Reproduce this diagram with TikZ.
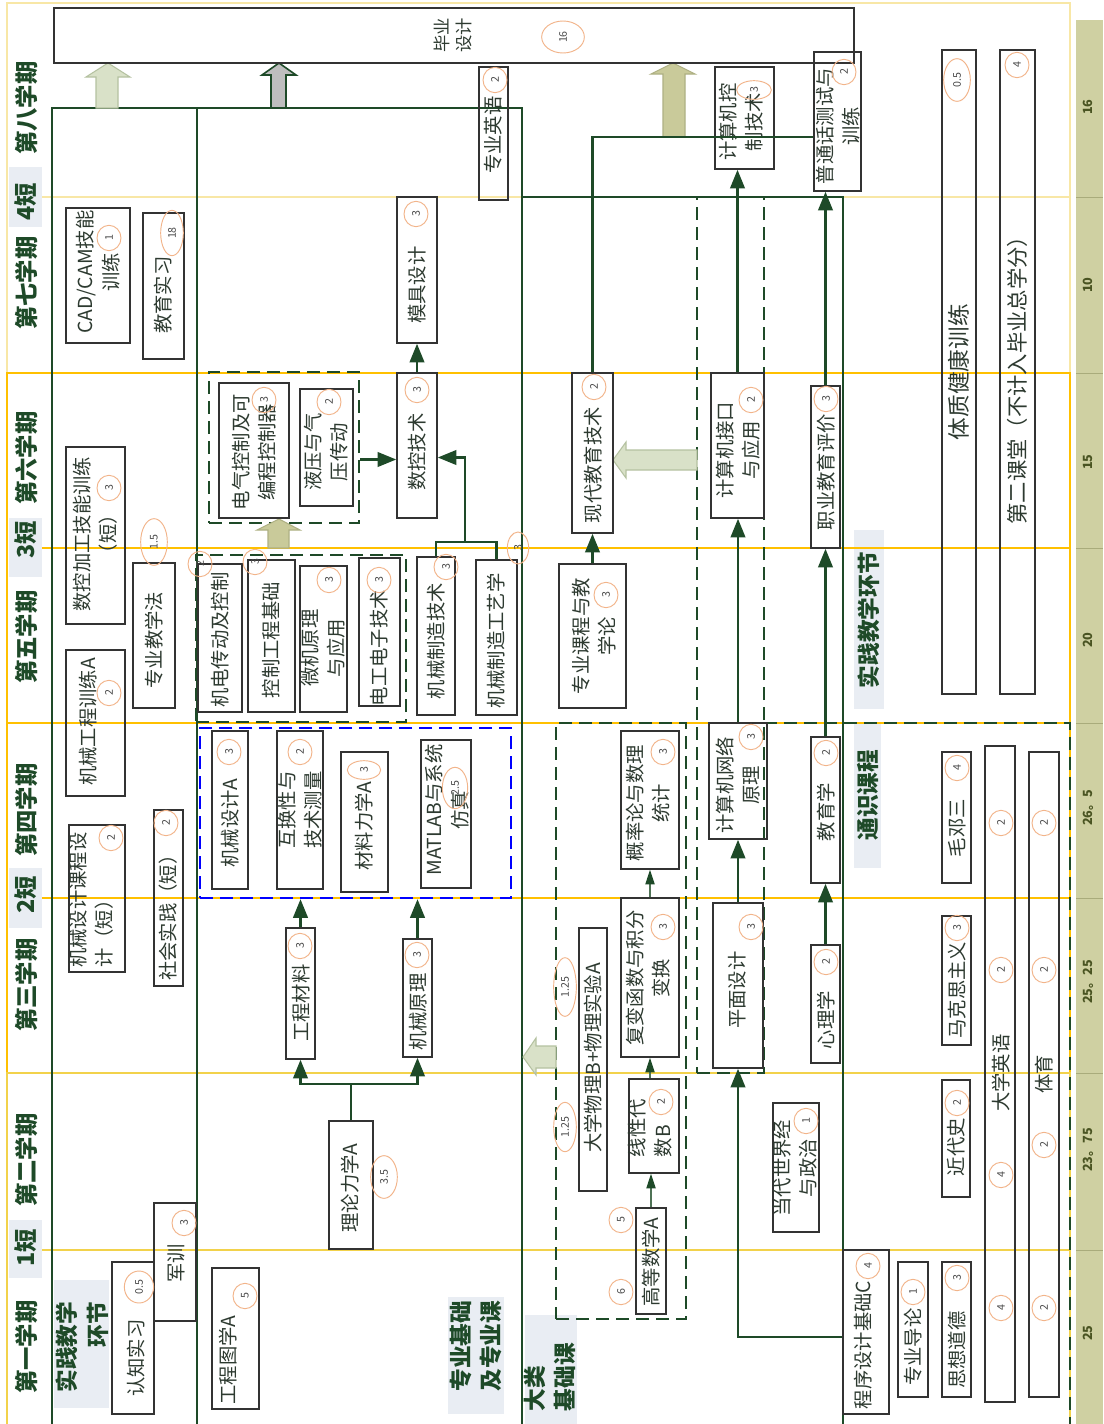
\documentclass[tikz,border=0pt]{standalone}
\usepackage{fontspec}
\setmainfont{Noto Sans CJK SC}
\usetikzlibrary{fit,calc,arrows.meta,shapes.geometric}
\definecolor{cGreen}{HTML}{1E4A28}
\definecolor{cGreenLt}{HTML}{4F7356}
\definecolor{cBox}{HTML}{333333}
\definecolor{cText}{HTML}{2D3A30}
\definecolor{cNum}{HTML}{4A4A4A}
\definecolor{cOrange}{HTML}{F2B48A}
\definecolor{cPale}{HTML}{F8E7A6}
\definecolor{cOr}{HTML}{FFC000}
\definecolor{cYel}{HTML}{F2D24B}
\definecolor{cBg}{HTML}{E9EDF3}
\definecolor{cOlive}{HTML}{CFD0A2}
\definecolor{cOliveD}{HTML}{A9AB7B}
\definecolor{cBarTxt}{HTML}{4A5422}
\definecolor{cArrLt}{HTML}{D9E1C8}
\definecolor{cArrLtD}{HTML}{B5C2A1}
\definecolor{cArrOl}{HTML}{C9CA9A}
\definecolor{cArrOlD}{HTML}{AEB083}
\definecolor{cGray}{HTML}{BEBEBE}
\tikzset{
 cbox/.style={draw=cBox, line width=1.2pt, inner sep=0pt},
 ctext/.style={rotate=90, align=center, inner sep=0pt, text=cText, font=\fontsize{14.5}{19.5}\selectfont},
 num/.style={ellipse, draw=cOrange, line width=0.7pt, rotate=90, inner sep=0.5pt, minimum width=19pt, minimum height=18pt, text=cNum, font=\fontsize{8}{9}\selectfont},
 gl/.style={draw=cGreen, line width=1.6pt},
 arr/.style={gl, -{Triangle[width=11pt,length=14pt]}},
 sarr/.style={draw=cGreenLt, line width=0.8pt, -{Triangle[width=7pt,length=11pt,color=cGreen]}},
 dsh/.style={draw=cGreen, line width=1.6pt, dash pattern=on 10pt off 5pt, inner sep=0pt},
 bdsh/.style={draw=blue, line width=1.8pt, dash pattern=on 10pt off 5pt, inner sep=0pt},
 sem/.style={rotate=90, inner sep=0pt, text=cGreen, font=\fontsize{17.5}{20}\selectfont\bfseries},
 lab/.style={rotate=90, align=center, inner sep=0pt, text=cGreen, font=\fontsize{17}{23}\selectfont\bfseries},
 barnum/.style={rotate=90, inner sep=0pt, text=cBarTxt, font=\fontsize{9.5}{10}\selectfont\bfseries},
 blockarr/.style={line width=0.8pt, line join=miter},
}
\newcommand\bx[5]{\node[cbox, fit={(#2,#3) (#4,#5)}] (#1) {};}
\newcommand\tx[4][]{\node[ctext,#1] (#2) at (#3) {#4};}
\newcommand\nm[4][]{\node[num,#1] (#2) at (#3) {#4};}
\begin{document}
\begin{tikzpicture}[x=0.75pt,y=-0.75pt]
\path[use as bounding box] (0,0) rectangle (1103,1424);
\fill[white] (0,0) rectangle (1103,1424);
% backgrounds
\fill[cBg] (9,167) rectangle (42,227);
\fill[cBg] (9,518) rectangle (42,577);
\fill[cBg] (9,868) rectangle (42,928);
\fill[cBg] (9,1220) rectangle (42,1278);
\fill[cBg] (854,530) rectangle (884,709);
\fill[cBg] (854,723) rectangle (881,868);
\fill[cBg] (54,1280) rectangle (109,1408);
\fill[cBg] (448,1297) rectangle (504,1414);
\fill[cBg] (525,1315) rectangle (577,1424);
\fill[cOlive] (1076,20) rectangle (1103,1424);
\foreach \yy in {197,373,548,723,898,1073,1250} \draw[cOliveD, line width=0.6pt] (1076,\yy) -- (1103,\yy);
% semester frame
\draw[cPale, line width=1.2pt] (7,373) -- (7,3) -- (1070,3) -- (1070,373);
\draw[cPale, line width=1.2pt] (42,197) -- (1070,197);
\draw[cOr, line width=1.8pt] (7,1073) -- (7,373) -- (1070,373) -- (1070,1073);
\draw[cOr, line width=1.8pt] (42,548) -- (1070,548);
\draw[cOr, line width=1.8pt] (7,723) -- (1070,723);
\draw[cOr, line width=1.8pt] (42,898) -- (1070,898);
\draw[cYel, line width=1.5pt] (7,1424) -- (7,1073) -- (1070,1073) -- (1070,1424);
\draw[cYel, line width=1.5pt] (42,1250) -- (1070,1250);
% green frame
\draw[gl] (52,1424) -- (52,108) -- (522,108) -- (522,1424);
\draw[gl] (197,108) -- (197,1424);
\draw[gl] (522,197) -- (843,197) -- (843,1424);
% dashed groups
\node[dsh, fit={(209,372) (359,523)}] (grpA) {};
\node[dsh, fit={(196,555) (406,722)}] (grpB) {};
\node[bdsh, fit={(200,728) (511,898)}] (blue) {};
\node[dsh, fit={(556,723) (686,1319)}] (math) {};
\node[dsh, fit={(697,197) (764,1073)}] (comp) {};
\draw[dsh] (764,723) -- (1070,723) -- (1070,1424);
% semester labels
\node[sem] (s8) at (27,108) {第八学期};
\node[sem] (s4d) at (26,202) {4短};
\node[sem] (s7) at (27,283) {第七学期};
\node[sem] (s6) at (27,458) {第六学期};
\node[sem] (s3d) at (26,540) {3短};
\node[sem] (s5) at (27,637) {第五学期};
\node[sem] (s4) at (27,810) {第四学期};
\node[sem] (s2d) at (26,895) {2短};
\node[sem] (s3) at (27,985) {第三学期};
\node[sem] (s2) at (27,1160) {第二学期};
\node[sem] (s1d) at (26,1248) {1短};
\node[sem] (s1) at (27,1347) {第一学期};
% section labels
\node[lab] (lbSJ) at (869,620) {实践教学环节};
\node[lab] (lbTS) at (868,795) {通识课程};
\node[lab, align=right] (lbSJL) at (82,1347) {实践教学\\环节};
\node[lab] (lbZY) at (476,1346) {专业基础\\及专业课};
\node[lab, align=left] (lbDL) at (550,1377) {大类\\基础课};
% credit bar
\node[barnum] (b8) at (1088,107) {16};
\node[barnum] (b7) at (1088,285) {10};
\node[barnum] (b6) at (1088,462) {15};
\node[barnum] (b5) at (1088,640) {20};
\node[barnum] (b4) at (1088,808) {26。5};
\node[barnum] (b3) at (1088,982) {25。25};
\node[barnum] (b2) at (1088,1150) {23。75};
\node[barnum] (b1) at (1088,1333) {25};
% block arrows
\filldraw[fill=cArrLt, draw=cArrLtD, blockarr] (96,108) -- (96,77) -- (86,77) -- (108,63) -- (130,77) -- (118,77) -- (118,108) -- cycle;
\filldraw[fill=cGray, draw=cGreen, blockarr, line width=1.2pt] (271,108) -- (271,75) -- (262,75) -- (279,63) -- (296,75) -- (286,75) -- (286,108) -- cycle;
\filldraw[fill=cArrOl, draw=cArrOlD, blockarr] (663,137) -- (663,74) -- (651,74) -- (673,63) -- (695,74) -- (685,74) -- (685,137) -- cycle;
\filldraw[fill=cArrLt, draw=cArrLtD, blockarr] (697,450) -- (626,450) -- (626,442) -- (613,460) -- (626,478) -- (626,470) -- (697,470) -- cycle;
\filldraw[fill=cArrOl, draw=cArrOlD, blockarr] (268,548) -- (268,530) -- (257,530) -- (279,519) -- (300,530) -- (289,530) -- (289,548) -- cycle;
\filldraw[fill=cArrLt, draw=cArrLtD, blockarr] (556,1046) -- (536,1046) -- (536,1038) -- (523,1057) -- (536,1075) -- (536,1068) -- (556,1068) -- cycle;
% ---------- boxes ----------
\bx{bysj}{54}{8}{854}{63} \tx[font=\fontsize{13}{17}\selectfont]{bysjT}{453,35}{毕业\\设计} \nm[minimum width=24pt,minimum height=32pt]{bysjC}{563,37}{16}
\bx{zyyy}{479}{67}{508}{200} \tx{zyyyT}{493,135}{专业英语} \nm{zyyyC}{495,80}{2}
\bx{jsjkz}{715}{67}{774}{169} \tx{jsjkzT}{741,122}{计算机控\\制技术} \nm[minimum width=14pt,minimum height=26pt]{jsjkzC}{754,90}{3}
\bx{pth}{814}{52}{861}{191} \tx{pthT}{838,126}{普通话测试与\\训练} \nm{pthC}{844,72}{2}
\bx{tzjk}{942}{50}{976}{694} \tx[font=\fontsize{17}{20}\selectfont]{tzjkT}{959,372}{体质健康训练} \nm[minimum width=32pt,minimum height=20pt]{tzjkC}{957,80}{0.5}
\bx{dekt}{1000}{50}{1035}{694} \tx[font=\fontsize{16}{20}\selectfont]{dektT}{1017,375}{第二课堂（不计入毕业总学分）} \nm{dektC}{1017,65}{4}
\bx{cad}{66}{208}{130}{343} \tx{cadT}{98,272}{CAD/CAM技能\\训练} \nm{cadC}{109,238}{1}
\bx{jysx}{143}{213}{184}{359} \tx{jysxT}{163,295}{教育实习} \nm[minimum width=34pt,minimum height=17pt]{jysxC}{172,233}{18}
\bx{mjsj}{397}{197}{437}{343} \tx{mjsjT}{417,285}{模具设计} \nm{mjsjC}{416,214}{3}
\bx{dqkz}{219}{383}{289}{518} \tx{dqkzT}{254,452}{电气控制及可\\编程控制器} \nm{dqkzC}{264,400}{3}
\bx{yy}{300}{389}{353}{506} \tx{yyT}{326,452}{液压与气\\压传动} \nm{yyC}{329,402}{2}
\bx{skjs}{397}{373}{437}{518} \tx{skjsT}{417,452}{数控技术} \nm{skjsC}{417,390}{3}
\bx{xdjy}{572}{373}{613}{533} \tx{xdjyT}{593,465}{现代教育技术} \nm{xdjyC}{594,387}{2}
\bx{jsjjk}{711}{373}{764}{518} \tx{jsjjkT}{738,450}{计算机接口\\与应用} \nm{jsjjkC}{751,400}{2}
\bx{zyjypj}{811}{386}{840}{548} \tx{zyjypjT}{826,472}{职业教育评价} \nm{zyjypjC}{826,399}{3}
\bx{skjg}{66}{447}{125}{624} \tx{skjgT}{95,534}{数控加工技能训练\\（短）} \nm{skjgC}{109,488}{3}
\bx{jxgc}{66}{650}{125}{796} \tx{jxgcT}{88,722}{机械工程训练A} \nm{jxgcC}{109,693}{2}
\bx{zyjxf}{133}{563}{175}{708} \tx{zyjxfT}{154,640}{专业教学法} \nm[minimum width=35pt,minimum height=20pt]{zyjxfC}{154,542}{1.5}
\bx{jdcd}{198}{564}{242}{712} \tx{jdcdT}{220,640}{机电传动及控制} \nm{jdcdC}{200,564}{2}
\bx{kzgc}{248}{560}{295}{712} \tx{kzgcT}{271,640}{控制工程基础} \nm{kzgcC}{255,562}{3}
\bx{wjyl}{300}{566}{347}{712} \tx{wjylT}{323,648}{微机原理\\与应用} \nm{wjylC}{329,580}{3}
\bx{dgdz}{359}{558}{400}{706} \tx{dgdzT}{379,648}{电工电子技术} \nm{dgdzC}{379,580}{3}
\bx{jzjs}{417}{557}{455}{715} \tx{jzjsT}{436,641}{机械制造技术} \nm{jzjsC}{446,567}{3}
\bx{jzgy}{476}{560}{517}{715} \tx{jzgyT}{496,641}{机械制造工艺学} \nm[minimum width=24pt,minimum height=16pt]{jzgyC}{518,548}{3}
\bx{zykc}{559}{564}{626}{708} \tx{zykcT}{594,636}{专业课程与教\\学论} \nm{zykcC}{606,595}{3}
\bx{jxkc}{69}{825}{125}{972} \tx[align=left]{jxkcT}{91,900}{机械设计课程设\\计（短）} \nm{jxkcC}{111,838}{2}
\bx{shsj}{154}{810}{183}{986} \tx{shsjT}{168,913}{社会实践（短）} \nm{shsjC}{166,823}{2}
\bx{jxsj}{212}{731}{248}{889} \tx{jxsjT}{230,823}{机械设计A} \nm{jxsjC}{229,752}{3}
\bx{hhx}{277}{731}{323}{889} \tx{hhxT}{300,810}{互换性与\\技术测量} \nm{hhxC}{300,752}{2}
\bx{clx}{341}{752}{388}{892} \tx{clxT}{364,826}{材料力学A} \nm[minimum width=14pt,minimum height=25pt]{clxC}{364,770}{3}
\bx{matlab}{421}{740}{471}{888} \tx{matlabT}{447,810}{MATLAB与系统\\仿真} \nm[minimum width=31pt,minimum height=19pt]{matlabC}{455,788}{2.5}
\bx{glt}{621}{731}{679}{869} \tx{gltT}{648,803}{概率论与数理\\统计} \nm{gltC}{663,752}{3}
\bx{jsjwl}{709}{723}{767}{839} \tx{jsjwlT}{738,785}{计算机网络\\原理} \nm{jsjwlC}{751,737}{3}
\bx{jyx}{811}{737}{840}{883} \tx{jyxT}{826,812}{教育学} \nm{jyxC}{826,753}{2}
\bx{mds}{942}{752}{971}{883} \tx{mdsT}{957,828}{毛邓三} \nm{mdsC}{957,768}{4}
\bx{dxyy}{985}{746}{1015}{1402} \tx{dxyyT}{1001,1073}{大学英语}
\nm{dxyyC1}{1001,823}{2} \nm{dxyyC2}{1001,970}{2} \nm{dxyyC3}{1001,1175}{4} \nm{dxyyC4}{1001,1308}{4}
\bx{ty}{1029}{752}{1059}{1397} \tx{tyT}{1044,1074}{体育}
\nm{tyC1}{1044,823}{2} \nm{tyC2}{1044,970}{2} \nm{tyC3}{1044,1145}{2} \nm{tyC4}{1044,1308}{2}
\bx{gccl}{286}{928}{315}{1059} \tx{gcclT}{301,1003}{工程材料} \nm{gcclC}{300,946}{3}
\bx{jxyl}{403}{939}{432}{1057} \tx{jxylT}{418,1012}{机械原理} \nm{jxylC}{417,955}{3}
\bx{dxwl}{579}{928}{607}{1191} \tx{dxwlT}{593,1058}{大学物理B+物理实验A}
\nm[minimum width=44pt,minimum height=17pt]{dxwlC1}{565,987}{1.25} \nm[minimum width=37pt,minimum height=17pt]{dxwlC2}{565,1127}{1.25}
\bx{fbhs}{621}{898}{679}{1057} \tx{fbhsT}{648,978}{复变函数与积分\\变换} \nm{fbhsC}{663,927}{3}
\bx{pmsj}{713}{903}{763}{1068} \tx{pmsjT}{737,990}{平面设计} \nm{pmsjC}{751,927}{3}
\bx{xlx}{811}{945}{840}{1063} \tx{xlxT}{826,1020}{心理学} \nm{xlxC}{826,962}{2}
\bx{mks}{942}{916}{971}{1045} \tx{mksT}{957,990}{马克思主义} \nm{mksC}{957,928}{3}
\bx{xxds}{629}{1079}{679}{1173} \tx[align=left]{xxdsT}{650,1128}{线性代\\数B} \nm{xxdsC}{661,1102}{2}
\bx{jds}{942}{1080}{970}{1197} \tx{jdsT}{956,1147}{近代史} \nm{jdsC}{957,1103}{2}
\bx{ddsj}{773}{1103}{819}{1232} \tx{ddsjT}{795,1168}{当代世界经\\与政治} \nm{ddsjC}{806,1121}{1}
\bx{llx}{329}{1121}{373}{1249} \tx{llxT}{350,1188}{理论力学A} \nm[minimum width=32pt,minimum height=20pt]{llxC}{384,1177}{3.5}
\bx{junxun}{154}{1203}{196}{1321} \tx{junxunT}{176,1263}{军训} \nm{junxunC}{184,1223}{3}
\bx{gdsx}{636}{1208}{666}{1314} \tx{gdsxT}{651,1262}{高等数学A} \nm{gdsxC1}{621,1220}{5} \nm{gdsxC2}{621,1292}{6}
\bx{cxsj}{843}{1250}{889}{1414} \tx{cxsjT}{863,1345}{程序设计基础C} \nm{cxsjC}{868,1266}{4}
\bx{rzsx}{112}{1262}{154}{1414} \tx{rzsxT}{136,1358}{认知实习} \nm[minimum width=24pt,minimum height=22pt]{rzsxC}{139,1287}{0.5}
\bx{gctx}{212}{1268}{259}{1409} \tx{gctxT}{228,1360}{工程图学A} \nm{gctxC}{245,1296}{5}
\bx{zydl}{898}{1262}{928}{1397} \tx{zydlT}{913,1347}{专业导论} \nm{zydlC}{913,1292}{1}
\bx{sxdd}{942}{1262}{971}{1397} \tx{sxddT}{957,1350}{思想道德} \nm{sxddC}{957,1278}{3}
% ---------- connectors ----------
\draw[arr] (skjs.north) -- (mjsj.south);
\draw[arr] ([yshift=-9pt]grpA.east) -- ([yshift=-9pt]grpA.east -| skjs.west);
\coordinate (mz) at (465,542);
\draw[gl] (jzjs.north) |- (mz) -| (jzgy.north);
\draw[arr] (mz) |- ([yshift=-9pt]skjs.east);
\draw[gl] (xdjy.north) |- ([yshift=-11.6pt]pth.west);
\draw[arr] (zykc.north) -- (xdjy.south);
\draw[arr] (jsjjk.north) -- (jsjjk.north |- jsjkz.south);
\draw[arr] (jsjwl.north) -- (jsjwl.north |- jsjjk.south);
\draw[arr] (pmsj.north) -- (pmsj.north |- jsjwl.south);
\draw[arr] ([yshift=-3.75pt]cxsj.west) -| (pmsj.south);
\draw[arr] (zyjypj.north) -- (zyjypj.north |- pth.south);
\draw[arr] (jyx.north) -- (zyjypj.south);
\draw[arr] (xlx.north) -- (jyx.south);
\coordinate (lj) at ($(llx.north)+(0,-36)$);
\draw[gl] (llx.north) -- (lj);
\draw[arr] (lj) -| (gccl.south);
\draw[arr] (lj) -| (jxyl.south);
\draw[arr] (gccl.north) -- (gccl.north |- blue.south);
\draw[arr] (jxyl.north) -- (jxyl.north |- blue.south);
\draw[sarr] (fbhs.north) -- (glt.south);
\draw[sarr] (fbhs.south |- xxds.north) -- (fbhs.south);
\draw[sarr] (gdsx.north) -- (gdsx.north |- xxds.south);
\end{tikzpicture}
\end{document}
